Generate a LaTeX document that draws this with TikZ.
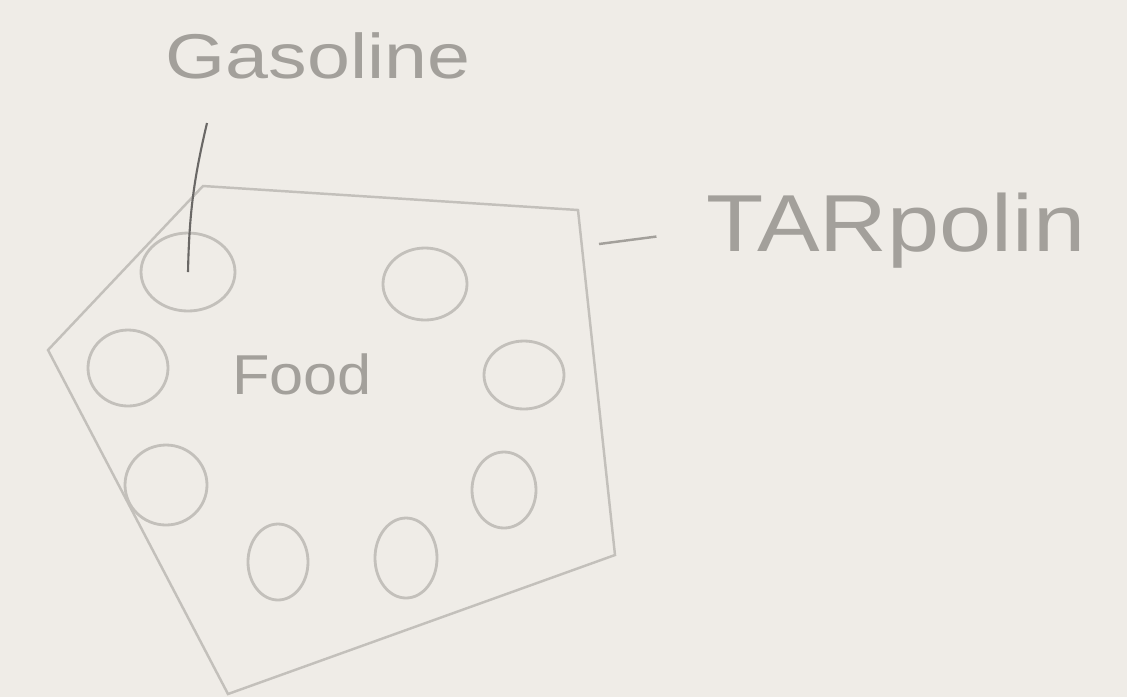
\documentclass[tikz,border=0pt]{standalone}
\usepackage{fontspec}
\setmainfont{Liberation Sans}
\usepackage{tikz}
\usetikzlibrary{shapes.geometric, positioning}
\definecolor{paper}{HTML}{EFECE7}
\definecolor{pencil}{HTML}{C3C0BB}
\definecolor{lead}{HTML}{6A6866}
\definecolor{ink}{HTML}{A3A09B}

\begin{document}
\begin{tikzpicture}[x=0.1mm, y=-0.1mm, every node/.style={text=ink},
  drum/.style={draw=pencil, ellipse, inner sep=0pt, line width=0.8pt}]
  \fill[paper] (0,0) rectangle (1127,697);
  \useasboundingbox (0,0) rectangle (1127,697);

  % Tarpaulin outline
  \draw[pencil, line width=0.7pt] (203,186) -- (578,210) -- (615,555) -- (228,694) -- (48,350) -- cycle;

  % Drums round the food
  \foreach \n/\cx/\cy/\rx/\ry in {
    1/188/272/47/39,
    2/425/284/42/36,
    3/128/368/40/38,
    4/524/375/40/34,
    5/166/485/41/40,
    6/504/490/32/38,
    7/278/562/30/38,
    8/406/558/31/40
  }{
    \node[drum, minimum width=\rx*0.2mm, minimum height=\ry*0.2mm] (drum\n) at (\cx,\cy) {};
  }
  \node[font=\fontsize{16}{18}\selectfont] (food) at (302,374) {\scalebox{1.09}[1]{Food}};

  % Labels
  \node[font=\fontsize{18}{20}\selectfont, inner sep=0pt, anchor=base west] (gasoline) at (165,78) {\scalebox{1.22}[1]{Gasoline}};
  \coordinate (gasTip) at (207,123);
  \draw[lead, line width=0.6pt] (gasTip) to[bend right=6] (drum1.center);

  \node[font=\fontsize{23}{26}\selectfont, inner sep=0pt, anchor=base west] (tarp) at (706,251) {\scalebox{1.16}[1]{TARpolin}};
  \coordinate (tarpTick) at (599,244);
  \draw[ink, line width=0.7pt, shorten >=5mm] (tarpTick) -- (tarp.west);
\end{tikzpicture}
\end{document}
